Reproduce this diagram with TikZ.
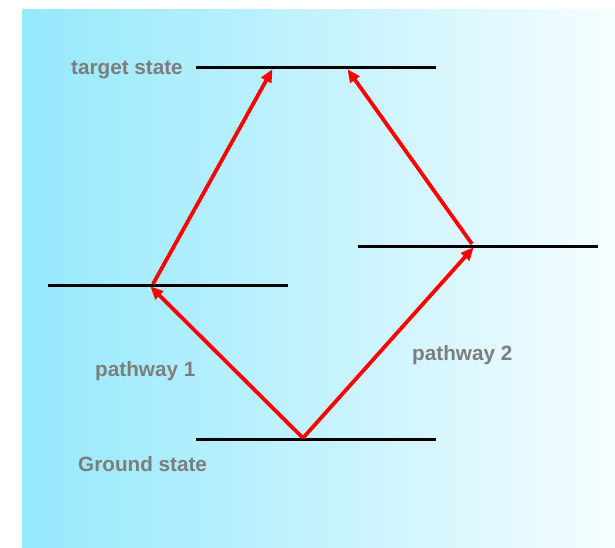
\documentclass[tikz,border=0pt]{standalone}
\usepackage{fontspec}
\setmainfont{Liberation Sans}
\usetikzlibrary{arrows.meta}
\definecolor{bgleft}{RGB}{149,233,252}
\definecolor{bgmid}{RGB}{196,242,253}
\definecolor{bgright}{RGB}{246,253,255}
\definecolor{labelgray}{RGB}{125,125,125}
\tikzset{
  level/.style={line width=3pt, black},
  transition/.style={line width=3.8pt, red, -{Triangle[length=13pt,width=11pt]}, shorten >=-1pt},
  lbl/.style={anchor=base west, inner sep=0pt, text=labelgray, font=\fontsize{20.7}{24}\selectfont\bfseries}
}
\begin{document}
\begin{tikzpicture}[x=1pt,y=-1pt]
\useasboundingbox (0,0) rectangle (615,547);
\shade[left color=bgleft, right color=bgright, middle color=bgmid] (22,9) rectangle (615,547);
% level end points
\coordinate (tL) at (196,67); \coordinate (tR) at (436,67);
\coordinate (aL) at (48,285); \coordinate (aR) at (288,285);
\coordinate (bL) at (358,246); \coordinate (bR) at (598,246);
\coordinate (gL) at (196,439); \coordinate (gR) at (436,439);
\draw[level] (tL) -- (tR);
\draw[level] (aL) -- (aR);
\draw[level] (bL) -- (bR);
\draw[level] (gL) -- (gR);
% transition points
\coordinate (g0) at (303,438);
\coordinate (a1) at (151,287);
\coordinate (a0) at (153,284);
\coordinate (b1) at (473,248);
\coordinate (b0) at (472,244);
\coordinate (t1) at (272,70);
\coordinate (t2) at (348,70);
\draw[transition] (g0) -- (a1);
\draw[transition] (g0) -- (b1);
\draw[transition] (a0) -- (t1);
\draw[transition] (b0) -- (t2);
% labels
\node[lbl] (ltarget) at (71,74) {target state};
\node[lbl] (lp1) at (95,376) {pathway 1};
\node[lbl] (lp2) at (412,360) {pathway 2};
\node[lbl] (lground) at (78,471) {Ground state};
\end{tikzpicture}
\end{document}
